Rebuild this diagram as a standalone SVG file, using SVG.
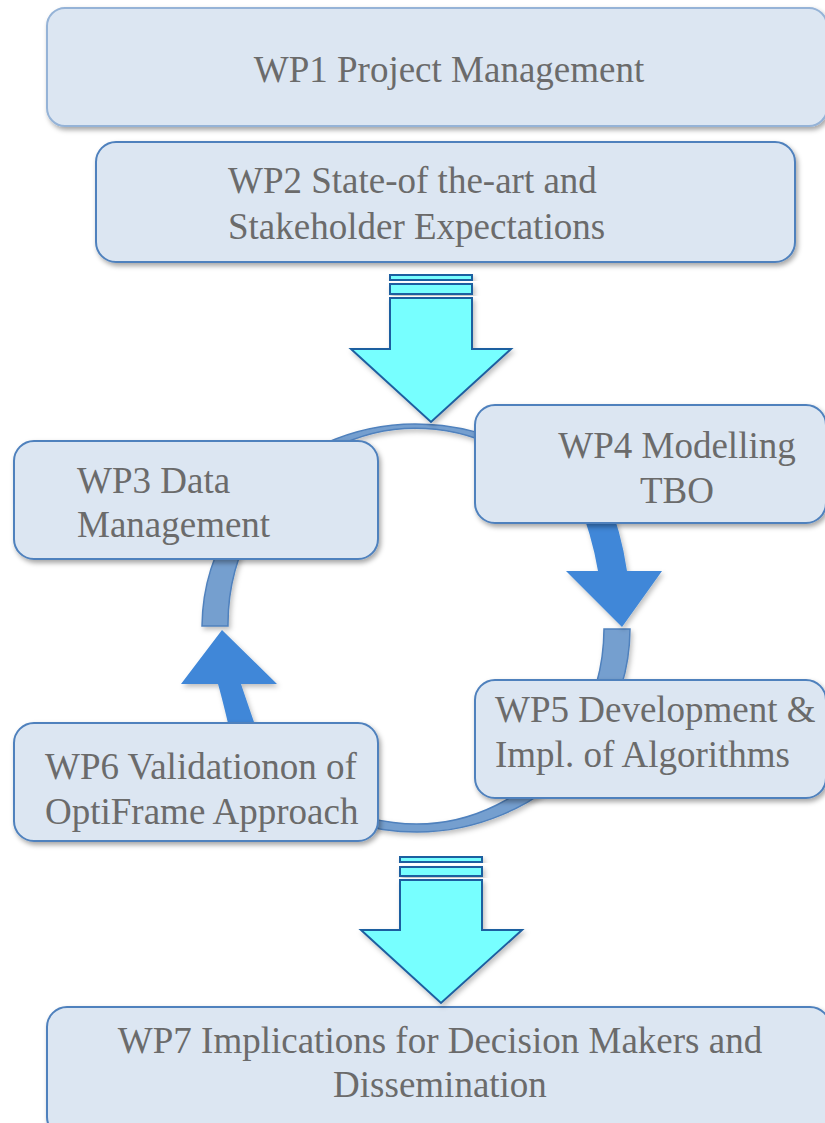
<svg xmlns="http://www.w3.org/2000/svg" width="825" height="1123" viewBox="0 0 825 1123">
<style>
.box{fill:#dce6f2;stroke:#4f81bd;stroke-width:2;filter:url(#sh)}
.box1{fill:#dce6f2;stroke:#95b3d7;stroke-width:2;filter:url(#sh)}
text{font-size:37px;fill:#6b6b6b}
.ring{fill:#759fcf;stroke:#4f81bd;stroke-width:1.5;filter:url(#sh2)}
.dark{fill:#3f87d8;filter:url(#sh2)}
.cyan{fill:#77ffff;stroke:#1f5fa0;stroke-width:2;stroke-linejoin:miter;filter:url(#sh2)}
</style>
<defs>
<filter id="sh" x="-10%" y="-10%" width="120%" height="130%">
<feDropShadow dx="2" dy="3" stdDeviation="2.5" flood-color="#000" flood-opacity="0.35"/>
</filter>
<filter id="sh2" x="-20%" y="-20%" width="140%" height="140%">
<feDropShadow dx="2" dy="3" stdDeviation="2.5" flood-color="#000" flood-opacity="0.25"/>
</filter>
</defs>
<g id="connectors">
<path class="ring" d="M 202 626 A 214 204 0 0 1 551.4 470 L 532 470 A 188 196 0 0 0 228 626 Z"/>
<path class="ring" d="M 630 629 A 214 204 0 0 1 273.3 780 L 297.3 780 A 188 196 0 0 0 604 629 Z"/>
<path class="dark" d="M 576 495 L 606 495 Q 621 530 627 571 L 662 571 L 622 627 L 566 571 L 598 571 Q 592 535 576 495 Z"/>
<path class="dark" d="M 222 630 L 277 684 L 241 684 Q 248 705 262 745 L 233 745 Q 224 705 218 684 L 181 684 Z"/>
</g>
<g font-family="'Liberation Serif', 'Times New Roman', Times, serif">
<g id="wp1">
<rect class="box1" x="47" y="8" width="780" height="118" rx="18"/>
<text x="449" y="82" text-anchor="middle">WP1 Project Management</text>
</g>
<g id="wp2">
<rect class="box" x="96" y="142" width="699" height="120" rx="20"/>
<text x="228" y="193">WP2 State-of the-art and</text>
<text x="228" y="239">Stakeholder Expectations</text>
</g>
<g id="wp3">
<rect class="box" x="14" y="441" width="364" height="118" rx="20"/>
<text x="77" y="493">WP3 Data</text>
<text x="77" y="537">Management</text>
</g>
<g id="wp4">
<rect class="box" x="475" y="405" width="351" height="118" rx="20"/>
<text x="677" y="458" text-anchor="middle">WP4 Modelling</text>
<text x="677" y="503" text-anchor="middle">TBO</text>
</g>
<g id="wp5">
<rect class="box" x="475" y="680" width="351" height="118" rx="20"/>
<text x="495" y="722">WP5 Development &amp;</text>
<text x="495" y="767">Impl. of Algorithms</text>
</g>
<g id="wp6">
<rect class="box" x="14" y="723" width="364" height="118" rx="20"/>
<text x="45" y="779">WP6 Validationon of</text>
<text x="45" y="824">OptiFrame Approach</text>
</g>
<g id="wp7">
<rect class="box" x="47" y="1007" width="783" height="130" rx="20"/>
<text x="440" y="1053" text-anchor="middle">WP7 Implications for Decision Makers and</text>
<text x="440" y="1097" text-anchor="middle">Dissemination</text>
</g>
</g>
<g id="arrow-top">
<rect class="cyan" x="390" y="275" width="82" height="5"/>
<rect class="cyan" x="390" y="284" width="82" height="10"/>
<path class="cyan" d="M 390 298 L 472 298 L 472 349 L 511 349 L 431 422 L 351 349 L 390 349 Z"/>
</g>
<g id="arrow-bottom">
<rect class="cyan" x="400" y="857" width="82" height="5"/>
<rect class="cyan" x="400" y="867" width="82" height="9"/>
<path class="cyan" d="M 400 880 L 482 880 L 482 930 L 522 930 L 441 1003 L 361 930 L 400 930 Z"/>
</g>
</svg>
